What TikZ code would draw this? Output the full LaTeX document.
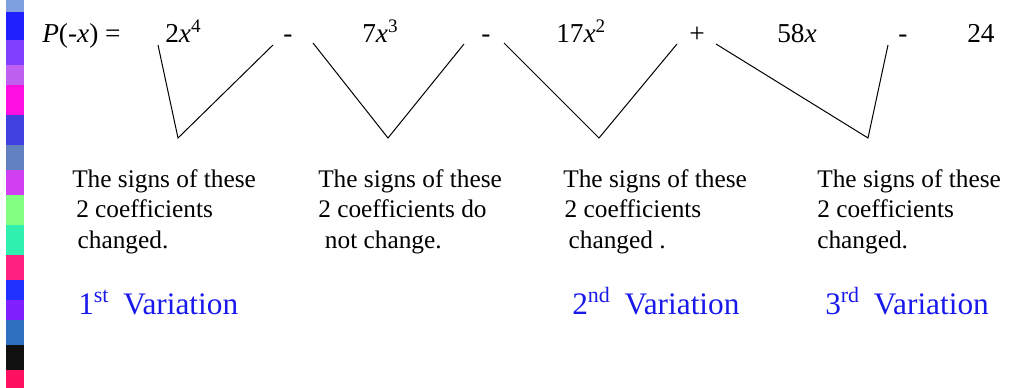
\documentclass[tikz,border=0pt]{standalone}
\usepackage{fontspec}
\setmainfont{Liberation Serif}
\usepackage{xcolor}
\definecolor{varblue}{RGB}{25,25,235}

\tikzset{
  term/.style={anchor=base west, inner sep=0pt, font=\fontsize{20.5}{24}\selectfont},
  note/.style={anchor=north west, inner sep=0pt, align=left, font=\fontsize{19}{22.9}\selectfont},
  variation/.style={anchor=base west, inner sep=0pt, text=varblue, font=\fontsize{23.5}{28}\selectfont},
  vline/.style={line width=0.75pt}
}

\begin{document}
\begin{tikzpicture}[x=0.75pt,y=-0.75pt]
  % Frame
  \useasboundingbox (0,0) rectangle (1010,388);
  % Mosaic strip
  \foreach \ya/\yb/\col in {0/12/7FA0E0, 12/40/2020FF, 40/65/8040FF, 65/85/C060F0,
      85/115/FF10E0, 115/145/4040E0, 145/170/6080C0, 170/195/D040F0,
      195/225/80FF80, 225/255/30F0B0, 255/280/FF2080, 280/300/2030FF,
      300/320/8020FF, 320/345/3070C0, 345/370/101010, 370/388/FF1060}{
    \definecolor{tile}{HTML}{\col}
    \fill[tile] (6,\ya) rectangle (24,\yb);
  }
  % Polynomial
  \node[term] (lhs) at (42,43) {\textit{P}(-\textit{x}) =};
  \node[term] (t1) at (165,43) {2\textit{x}\textsuperscript{4}};
  \node[term] (s1) at (283,43) {-};
  \node[term] (t2) at (362,43) {7\textit{x}\textsuperscript{3}};
  \node[term] (s2) at (481,43) {-};
  \node[term] (t3) at (556,43) {17\textit{x}\textsuperscript{2}};
  \node[term] (s3) at (689,43) {+};
  \node[term] (t4) at (777,43) {58\textit{x}};
  \node[term] (s4) at (898,43) {-};
  \node[term] (t5) at (967,43) {24};
  % Pairs of signs
  \coordinate (v1a) at (158,45);  \coordinate (v1b) at (178,138); \coordinate (v1c) at (273,45);
  \coordinate (v2a) at (313,43);  \coordinate (v2b) at (388,138); \coordinate (v2c) at (464,44);
  \coordinate (v3a) at (504,43);  \coordinate (v3b) at (599,138); \coordinate (v3c) at (677,44);
  \coordinate (v4a) at (716,44);  \coordinate (v4b) at (868,138); \coordinate (v4c) at (888,45);
  \draw[vline] (v1a) -- (v1b) -- (v1c);
  \draw[vline] (v2a) -- (v2b) -- (v2c);
  \draw[vline] (v3a) -- (v3b) -- (v3c);
  \draw[vline] (v4a) -- (v4b) -- (v4c);
  % Notes
  \node[note] (n1) at (72,169) {The signs of these\\\hspace*{3pt}2 coefficients\\\hspace*{4pt}changed.};
  \node[note] (n2) at (318,169) {The signs of these\\2 coefficients do\\\hspace*{5pt}not change.};
  \node[note] (n3) at (563,169) {The signs of these\\\hspace*{1pt}2 coefficients\\\hspace*{4pt}changed .};
  \node[note] (n4) at (817,169) {The signs of these\\2 coefficients\\changed.};
  % Variations
  \node[variation] (var1) at (78,315) {1\textsuperscript{st}\hspace{0.45em}Variation};
  \node[variation] (var2) at (572,315) {2\textsuperscript{nd}\hspace{0.45em}Variation};
  \node[variation] (var3) at (825,315) {3\textsuperscript{rd}\hspace{0.45em}Variation};
\end{tikzpicture}
\end{document}
